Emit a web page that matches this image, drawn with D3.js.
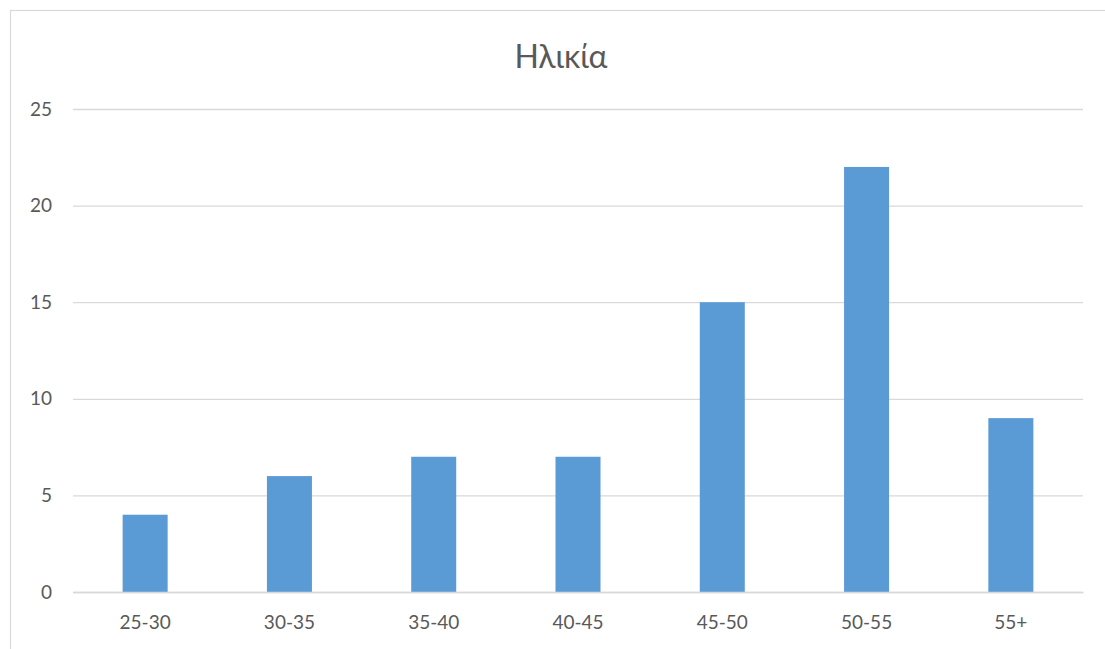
<!DOCTYPE html>
<html><head><meta charset="utf-8">
<script src="https://cdn.jsdelivr.net/npm/d3@7"></script>
<style>body{margin:0;background:#fff;} svg{display:block;}</style>
</head><body>
<svg id="c" width="1105" height="649"></svg>
<script>
const categories = ["25-30","30-35","35-40","40-45","45-50","50-55","55+"];
const values = [4,6,7,7,15,22,9];
const yTicks = [0,5,10,15,20,25];
const title = "Ηλικία";

const svg = d3.select("#c");
const font = "Lato, 'Open Sans', sans-serif";
const plotL = 73, plotR = 1083, plotT = 109, plotB = 592;

svg.append("rect").attr("x",10.5).attr("y",10.5).attr("width",1110).attr("height",660)
  .attr("fill","#fff").attr("stroke","#d9d9d9").attr("stroke-width",1.2);

const x = d3.scaleBand().domain(categories).range([plotL,plotR]).paddingInner(0.688).paddingOuter(0.344);
const y = d3.scaleLinear().domain([0,25]).range([plotB,plotT]);

const yAxis = svg.append("g").attr("transform",`translate(${plotL},0)`)
  .call(d3.axisLeft(y).tickValues(yTicks).tickSize(-(plotR-plotL)).tickPadding(21));
yAxis.select(".domain").remove();
yAxis.selectAll("line").attr("stroke","#d9d9d9").attr("stroke-width",1.3);
yAxis.selectAll("text").attr("fill","#595959").style("font-family",font).style("font-size","19px");

svg.append("g").selectAll("rect").data(values).join("rect")
  .attr("x",(d,i)=>x(categories[i])).attr("width",x.bandwidth())
  .attr("y",d=>y(d)).attr("height",d=>y(0)-y(d)).attr("fill","#5b9bd5");

const xAxis = svg.append("g").attr("transform",`translate(0,${plotB})`)
  .call(d3.axisBottom(x).tickSize(0).tickPadding(24));
xAxis.select(".domain").attr("stroke","#d9d9d9").attr("stroke-width",1.3);
xAxis.selectAll("text").attr("fill","#595959").style("font-family",font).style("font-size","19px");

svg.append("text").attr("x",561).attr("y",68).attr("text-anchor","middle")
  .attr("fill","#595959").style("font-family",font).style("font-size","32px").text(title);
</script>
</body></html>
